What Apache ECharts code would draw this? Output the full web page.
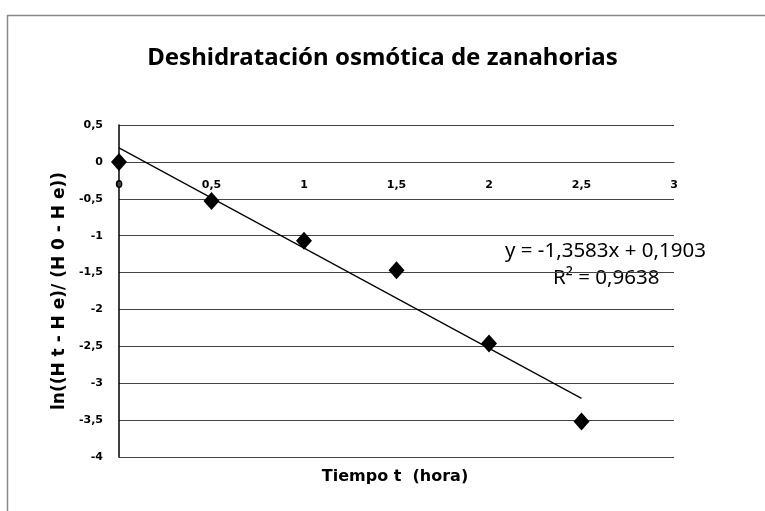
<!DOCTYPE html>
<html>
<head>
<meta charset="utf-8">
<script src="https://cdn.jsdelivr.net/npm/echarts@6/dist/echarts.min.js"></script>
<style>
html,body{margin:0;padding:0;background:#fff;}
#chart{width:765px;height:511px;}
</style>
</head>
<body>
<div id="chart"></div>
<script>
// Data
var timeHours = [0, 0.5, 1, 1.5, 2, 2.5];
var lnRatio = [0, -0.53, -1.07, -1.47, -2.46, -3.52];
var trendX = [0, 2.5];
var trendY = [0.1903, -3.2055];
var titleText = 'Deshidratación osmótica de zanahorias';
var xName = 'Tiempo t  (hora)';
var yName = 'ln((H t - H e)/ (H 0 - H e))';
var eqText = 'y = -1,3583x + 0,1903';
var r2Text = 'R² = 0,9638';

var fmt = function (v) { return String(v).replace('.', ','); };

var chart = echarts.init(document.getElementById('chart'), null, {renderer: 'canvas'});
chart.setOption({
  animation: false,
  backgroundColor: '#fff',
  title: {
    text: titleText,
    left: 'center',
    top: 41,
    textStyle: {fontFamily: 'Noto Sans', fontWeight: 'bold', fontSize: 24, color: '#000'}
  },
  grid: {left: 119, top: 125, right: 91, bottom: 54},
  xAxis: {
    type: 'value', min: 0, max: 3, interval: 0.5,
    position: 'bottom',
    offset: -295,
    axisLine: {show: true, onZero: false, lineStyle: {color: '#444', width: 1.2}},
    axisTick: {show: false},
    splitLine: {show: false},
    axisLabel: {margin: 18, color: '#000', fontFamily: 'DejaVu Sans', fontWeight: 'bold', fontSize: 11, formatter: fmt}
  },
  yAxis: {
    type: 'value', min: -4, max: 0.5, interval: 0.5,
    name: yName, nameLocation: 'middle', nameGap: 50, nameRotate: 90,
    nameTextStyle: {fontFamily: 'DejaVu Sans', fontWeight: 'bold', fontSize: 17, color: '#000'},
    axisLine: {show: true, onZero: false, lineStyle: {color: '#000', width: 1.5}},
    axisTick: {show: false},
    splitLine: {show: true, lineStyle: {color: '#444', width: 1.2}},
    axisLabel: {margin: 16, color: '#000', fontFamily: 'DejaVu Sans', fontWeight: 'bold', fontSize: 11, formatter: fmt}
  },
  series: [
    {
      type: 'line',
      data: trendX.map(function (x, i) { return [x, trendY[i]]; }),
      showSymbol: false, symbol: 'none',
      lineStyle: {color: '#000', width: 1.2},
      z: 3
    },
    {
      type: 'scatter',
      data: timeHours.map(function (x, i) { return [x, lnRatio[i]]; }),
      symbol: 'diamond', symbolSize: [16, 18],
      itemStyle: {color: '#000', opacity: 1},
      z: 4
    }
  ],
  graphic: [
    {type: 'rect', left: 5, top: 13, shape: {width: 900, height: 700}, style: {fill: 'none', stroke: '#888', lineWidth: 1.5}, silent: true},
    {type: 'text', x: 395, y: 477, style: {text: xName, fontFamily: 'DejaVu Sans', fontWeight: 'bold', fontSize: 16, fill: '#000', align: 'center', verticalAlign: 'middle'}},
    {type: 'text', x: 505, y: 251, style: {text: eqText, fontFamily: 'Noto Sans', fontSize: 20.5, fill: '#000', align: 'left', verticalAlign: 'middle'}},
    {type: 'text', x: 553, y: 278, style: {text: r2Text, fontFamily: 'Noto Sans', fontSize: 20.5, fill: '#000', align: 'left', verticalAlign: 'middle'}}
  ]
});
</script>
</body>
</html>
